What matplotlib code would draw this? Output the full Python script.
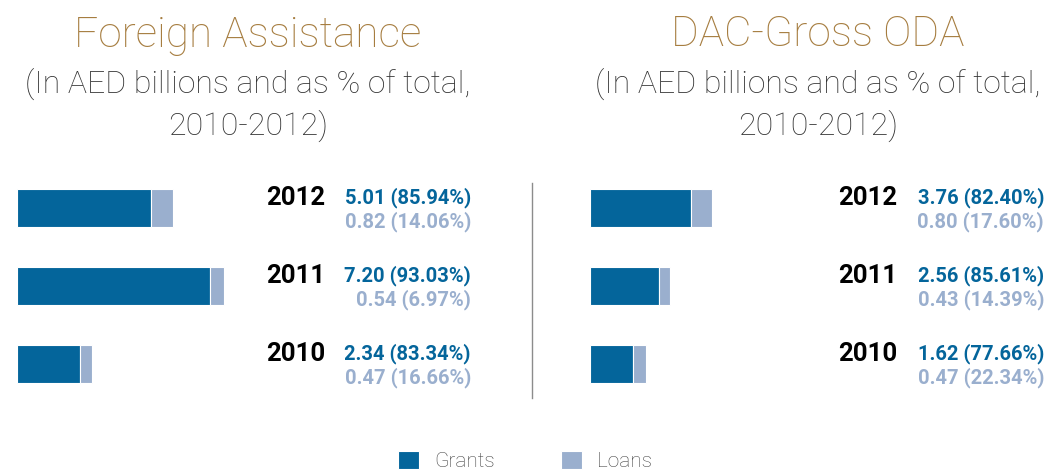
import matplotlib
matplotlib.use("Agg")
import matplotlib.pyplot as plt
from matplotlib.transforms import blended_transform_factory
from matplotlib.lines import Line2D

# ---- data ----
years = ["2012", "2011", "2010"]
fa_grants = [5.01, 7.20, 2.34]
fa_loans = [0.82, 0.54, 0.47]
fa_grant_pct = [85.94, 93.03, 83.34]
fa_loan_pct = [14.06, 6.97, 16.66]
dac_grants = [3.76, 2.56, 1.62]
dac_loans = [0.80, 0.43, 0.47]
dac_grant_pct = [82.40, 85.61, 77.66]
dac_loan_pct = [17.60, 14.39, 22.34]
titles = ["Foreign Assistance", "DAC-Gross ODA"]
subtitle = "(In AED billions and as % of total,\n2010-2012)"
series_names = ["Grants", "Loans"]

GRANT_C = "#04659b"
LOAN_C = "#9aafce"
TITLE_C = "#a67d40"
FONT = ["Roboto", "DejaVu Sans"]
plt.rcParams["font.family"] = FONT

W, H = 1055, 471
fig = plt.figure(figsize=(W / 100, H / 100), dpi=100)

def fx(px):
    return px / W

def fy(py):
    return 1 - py / H

panels = [
    dict(x0=17, grants=fa_grants, loans=fa_loans, gp=fa_grant_pct, lp=fa_loan_pct,
         year_x=325, val_x=471, title_x=248),
    dict(x0=590, grants=dac_grants, loans=dac_loans, gp=dac_grant_pct, lp=dac_loan_pct,
         year_x=897, val_x=1044, title_x=818),
]

top, bottom = 169, 403
handles = None
for i, p in enumerate(panels):
    ax = fig.add_axes([fx(p["x0"]), fy(bottom), fx(268), (bottom - top) / H])
    ax.set_xlim(0, 10)
    ax.set_ylim(2.5, -0.5)
    ax.axis("off")
    pos = list(range(len(years)))
    hb = 0.49
    b1 = ax.barh(pos, p["grants"], height=hb, color=GRANT_C, edgecolor="white", linewidth=0.8)
    b2 = ax.barh(pos, p["loans"], left=p["grants"], height=hb, color=LOAN_C,
                 edgecolor="white", linewidth=0.8)
    handles = (b1, b2)
    tr = blended_transform_factory(fig.transFigure, ax.transData)
    for j, y in enumerate(years):
        ax.text(fx(p["year_x"]), j - 0.13, y, transform=tr, ha="right", va="center",
                fontsize=18.5, fontweight="bold", color="black")
        ax.text(fx(p["val_x"]), j - 0.13, f"{p['grants'][j]:.2f} ({p['gp'][j]:.2f}%)",
                transform=tr, ha="right", va="center", fontsize=14.5, fontweight="bold",
                color=GRANT_C)
        ax.text(fx(p["val_x"]), j + 0.18, f"{p['loans'][j]:.2f} ({p['lp'][j]:.2f}%)",
                transform=tr, ha="right", va="center", fontsize=14.5, fontweight="bold",
                color=LOAN_C)
    fig.text(fx(p["title_x"]), fy(35), titles[i], ha="center", va="center",
             fontsize=30.5, fontweight="light", color=TITLE_C)
    fig.text(fx(p["title_x"]), fy(105), subtitle, ha="center", va="center",
             fontsize=23, fontweight="light", color="#333333", linespacing=1.4)

fig.add_artist(Line2D([fx(532), fx(532)], [fy(183), fy(398)], color="#8c8c8c", lw=1.0))

fig.legend(handles, series_names, loc="center", bbox_to_anchor=(fx(525), fy(461)),
           ncol=2, frameon=False, handlelength=1.0, handleheight=1.0, handletextpad=0.7,
           columnspacing=3.2, labelcolor="#444444",
           prop={"family": FONT, "weight": "light", "size": 15})

fig.savefig("out.png", dpi=100)
